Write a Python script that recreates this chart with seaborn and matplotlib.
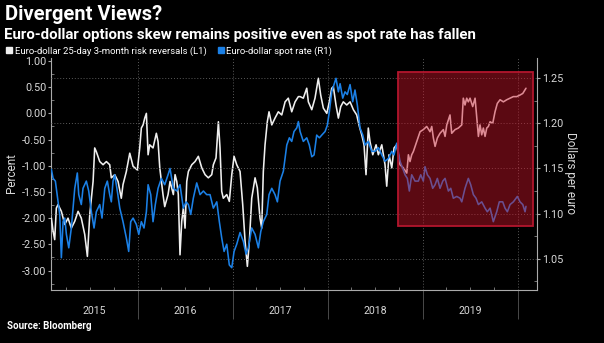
import matplotlib
matplotlib.use("Agg")
import matplotlib.pyplot as plt
import matplotlib.transforms as mtransforms
from matplotlib.patches import Rectangle
from matplotlib.lines import Line2D
from matplotlib.ticker import FixedLocator, FormatStrFormatter, MultipleLocator
import seaborn as sns
import pandas as pd
import numpy as np

# ---------------- data (decimal years) ----------------
rr_t = [2015.093, 2015.111, 2015.128, 2015.145, 2015.163, 2015.198, 2015.234, 2015.268, 2015.303, 2015.339,
        2015.374, 2015.408, 2015.444, 2015.472, 2015.497, 2015.532, 2015.549, 2015.566, 2015.602, 2015.637,
        2015.672, 2015.707, 2015.724, 2015.760, 2015.795, 2015.829, 2015.847, 2015.882, 2015.918, 2015.953,
        2015.998, 2016.023, 2016.040, 2016.058, 2016.076, 2016.093, 2016.111, 2016.128, 2016.163, 2016.198,
        2016.216, 2016.234, 2016.268, 2016.286, 2016.321,
        2016.342, 2016.377, 2016.395, 2016.413, 2016.429, 2016.447, 2016.465, 2016.482, 2016.500, 2016.518,
        2016.535, 2016.571, 2016.605, 2016.640, 2016.676, 2016.711, 2016.745, 2016.781, 2016.798, 2016.826,
        2016.851, 2016.868, 2016.886, 2016.903, 2016.939, 2016.966, 2016.992,
        2017.016, 2017.044, 2017.079, 2017.107, 2017.132, 2017.156, 2017.177, 2017.202, 2017.237, 2017.261,
        2017.289, 2017.307, 2017.324, 2017.342, 2017.366, 2017.384, 2017.413, 2017.447, 2017.482, 2017.518,
        2017.553, 2017.587, 2017.623, 2017.658, 2017.693,
        2017.711, 2017.745, 2017.781, 2017.798, 2017.834, 2017.868, 2017.903, 2017.928, 2017.956, 2017.992,
        2018.019, 2018.044, 2018.061, 2018.089, 2018.114, 2018.139, 2018.166, 2018.202, 2018.237, 2018.272,
        2018.307, 2018.335, 2018.360, 2018.384, 2018.405, 2018.429, 2018.447, 2018.476, 2018.511, 2018.535,
        2018.571, 2018.605, 2018.623, 2018.647, 2018.676, 2018.700, 2018.728,
        2018.763, 2018.798, 2018.834, 2018.851, 2018.868, 2018.886, 2018.903, 2018.939, 2018.974,
        2019.008, 2019.044, 2019.079, 2019.097, 2019.114, 2019.132, 2019.156, 2019.184, 2019.219, 2019.237,
        2019.255, 2019.289, 2019.307, 2019.342, 2019.377, 2019.413, 2019.429, 2019.447, 2019.465, 2019.482,
        2019.500, 2019.528, 2019.553, 2019.571, 2019.588, 2019.605, 2019.623, 2019.640, 2019.658, 2019.676,
        2019.693, 2019.711, 2019.739, 2019.763, 2019.787, 2019.816, 2019.851, 2019.886, 2019.921, 2019.956,
        2019.992, 2020.026, 2020.055, 2020.079, 2020.089]
rr_v = [-2.00, -2.25, -2.41, -1.81, -1.74, -1.87, -2.12, -2.00, -2.19, -2.06,
        -1.87, -2.00, -2.31, -2.73, -1.93, -1.30, -0.66, -0.73, -0.92, -0.98,
        -0.92, -0.98, -1.23, -1.17, -1.30, -1.62, -1.36, -1.11, -0.76, -1.01,
        -1.08, -0.66, -0.28, -0.22, -0.09, 0.00, -0.79, -0.60, -0.66, -0.38,
        -0.54, -1.04, -1.55, -1.78, -1.55,
        -1.30, -1.55, -1.17, -1.30, -1.55, -2.70, -2.06, -1.81, -2.19, -1.30,
        -1.11, -0.98, -0.92, -0.82, -1.04, -1.17, -1.23, -1.17, -0.98, -0.85,
        -0.16, -0.66, -1.49, -1.62, -1.55, -1.68, -1.17,
        -0.82, -0.98, -1.11, -1.74, -2.44, -2.92, -2.44, -1.62, -1.23, -1.42,
        -2.00, -2.19, -1.11, -0.60, -0.16, 0.03, -0.22, -0.09, 0.03, -0.03,
        0.22, 0.29, 0.03, 0.22, 0.32,
        0.32, 0.29, 0.48, 0.22, 0.07, 0.29, 0.67, 0.35, 0.10, 0.00,
        0.22, 0.48, 0.51, 0.16, -0.09, 0.13, 0.22, 0.16, 0.22, 0.07,
        -0.03, -0.25, -0.41, -0.60, -1.17, -0.28, -0.54, -0.79, -0.60, -0.79,
        -0.60, -0.98, -1.39, -0.79, -1.04, -0.66, -0.60,
        -0.98, -1.04, -1.14, -0.79, -0.92, -0.79, -0.73, -0.54, -0.35,
        -0.31, -0.25, -0.35, -0.25, -0.47, -0.63, -0.47, -0.38, -0.31, -0.44,
        -0.22, -0.03, -0.38, -0.31, -0.28, -0.22, 0.29, 0.16, 0.29, 0.22,
        0.29, 0.13, 0.29, -0.09, -0.44, -0.22, -0.41, -0.28, -0.44, -0.28,
        -0.25, -0.16, -0.19, 0.03, 0.19, 0.26, 0.22, 0.26, 0.29, 0.32,
        0.32, 0.35, 0.38, 0.45, 0.48]

spot_t = [2015.093, 2015.111, 2015.135, 2015.163, 2015.181, 2015.198, 2015.216, 2015.234, 2015.251, 2015.276,
          2015.303, 2015.339, 2015.366, 2015.381, 2015.408, 2015.426, 2015.461, 2015.486, 2015.514, 2015.542,
          2015.566, 2015.602, 2015.626, 2015.655, 2015.682, 2015.707, 2015.724, 2015.742, 2015.760, 2015.787,
          2015.813, 2015.847, 2015.882, 2015.907, 2015.928, 2015.953, 2015.987,
          2016.013, 2016.040, 2016.068, 2016.093, 2016.111, 2016.139, 2016.163, 2016.187, 2016.216, 2016.251,
          2016.286, 2016.321, 2016.342, 2016.377, 2016.413, 2016.447, 2016.482, 2016.511, 2016.535, 2016.560,
          2016.587, 2016.623, 2016.658, 2016.693, 2016.728, 2016.763, 2016.798, 2016.834, 2016.861, 2016.886,
          2016.911, 2016.939, 2016.966, 2016.992,
          2017.016, 2017.044, 2017.079, 2017.114, 2017.142, 2017.166, 2017.202, 2017.237, 2017.272, 2017.297,
          2017.324, 2017.360, 2017.384, 2017.413, 2017.447, 2017.472, 2017.500, 2017.535, 2017.571, 2017.598,
          2017.623, 2017.647, 2017.676, 2017.693, 2017.711, 2017.745, 2017.781, 2017.808, 2017.834, 2017.858,
          2017.886, 2017.914, 2017.939, 2017.974, 2017.998,
          2018.019, 2018.044, 2018.068, 2018.089, 2018.114, 2018.132, 2018.160, 2018.184, 2018.208, 2018.237,
          2018.265, 2018.289, 2018.314, 2018.342, 2018.371, 2018.395, 2018.429, 2018.465, 2018.500, 2018.535,
          2018.571, 2018.605, 2018.640, 2018.676, 2018.700, 2018.728, 2018.763, 2018.792, 2018.816, 2018.840,
          2018.861, 2018.886, 2018.921, 2018.956, 2018.981,
          2019.008, 2019.026, 2019.051, 2019.079, 2019.107, 2019.132, 2019.156, 2019.184, 2019.213, 2019.237,
          2019.272, 2019.297, 2019.324, 2019.360, 2019.395, 2019.413, 2019.447, 2019.482, 2019.507, 2019.535,
          2019.563, 2019.588, 2019.623, 2019.658, 2019.682, 2019.711, 2019.745, 2019.781, 2019.808, 2019.844,
          2019.868, 2019.893, 2019.921, 2019.956, 2019.998, 2020.026, 2020.055, 2020.079, 2020.089]
spot_v = [1.149, 1.139, 1.136, 1.113, 1.099, 1.051, 1.091, 1.095, 1.077, 1.062,
          1.084, 1.128, 1.145, 1.121, 1.110, 1.128, 1.136, 1.125, 1.102, 1.084,
          1.102, 1.110, 1.095, 1.128, 1.136, 1.121, 1.113, 1.136, 1.143, 1.125,
          1.106, 1.091, 1.073, 1.058, 1.091, 1.095, 1.088,
          1.077, 1.091, 1.084, 1.102, 1.132, 1.121, 1.091, 1.110, 1.128, 1.139,
          1.132, 1.143, 1.150, 1.128, 1.125, 1.132, 1.106, 1.113, 1.110, 1.099,
          1.117, 1.134, 1.121, 1.125, 1.121, 1.121, 1.106, 1.113, 1.091, 1.073,
          1.058, 1.066, 1.043, 1.040,
          1.058, 1.066, 1.079, 1.069, 1.055, 1.062, 1.084, 1.077, 1.062, 1.080,
          1.091, 1.099, 1.121, 1.128, 1.121, 1.113, 1.136, 1.147, 1.176, 1.184,
          1.180, 1.191, 1.195, 1.202, 1.191, 1.180, 1.184, 1.176, 1.163, 1.165,
          1.187, 1.184, 1.187, 1.191, 1.198,
          1.213, 1.235, 1.243, 1.250, 1.235, 1.244, 1.228, 1.235, 1.232, 1.243,
          1.224, 1.237, 1.220, 1.195, 1.187, 1.176, 1.180, 1.169, 1.169, 1.173,
          1.165, 1.158, 1.161, 1.169, 1.165, 1.178, 1.158, 1.150, 1.143, 1.139,
          1.125, 1.143, 1.136, 1.136, 1.143,
          1.136, 1.152, 1.143, 1.139, 1.128, 1.132, 1.139, 1.128, 1.136, 1.139,
          1.125, 1.128, 1.117, 1.119, 1.117, 1.113, 1.128, 1.139, 1.132, 1.121,
          1.117, 1.110, 1.113, 1.106, 1.102, 1.106, 1.091, 1.102, 1.113, 1.113,
          1.106, 1.102, 1.110, 1.113, 1.119, 1.113, 1.110, 1.102, 1.108]

years = [2015, 2016, 2017, 2018, 2019]
left_ticks = [1.00, 0.50, 0.00, -0.50, -1.00, -1.50, -2.00, -2.50, -3.00]
right_ticks = [1.05, 1.10, 1.15, 1.20, 1.25]
# highlighted window (start, end in years; low, high in dollars per euro)
box_t = (2018.742, 2020.163)
box_r = (1.0866, 1.257)

rr_label = "Euro-dollar 25-day 3-month risk reversals (L1)"
spot_label = "Euro-dollar spot rate (R1)"

# ---------------- style ----------------
sns.set_theme(style="dark")
plt.rcParams["font.family"] = ["Roboto", "DejaVu Sans"]
plt.rcParams["axes.unicode_minus"] = False

BG = "#000000"
TXT = "#d8d8d8"
GRID = "#5a5a5a"
WHITE_LINE = "#efefef"
BLUE_LINE = "#1b80e6"

fig = plt.figure(figsize=(6.04, 3.43), dpi=100, facecolor=BG)
ax = fig.add_axes([51 / 604, 1 - 289.5 / 343, (537.3 - 51) / 604, (289.5 - 58) / 343])
ax.set_facecolor(BG)
ax2 = ax.twinx()

rr = pd.DataFrame({"t": rr_t, "v": rr_v})
sp = pd.DataFrame({"t": spot_t, "v": spot_v})

sns.lineplot(data=rr, x="t", y="v", ax=ax, color=WHITE_LINE, linewidth=1.15, zorder=3)
sns.lineplot(data=sp, x="t", y="v", ax=ax2, color=BLUE_LINE, linewidth=1.15, zorder=3)

xmin, xmax = 2015.089, 2020.208
ax.set_xlim(xmin, xmax)
ax.set_ylim(-3.362, 1.057)
ax2.set_ylim(1.0158, 1.2725)

for a in (ax, ax2):
    a.set_xlabel("")
    a.set_ylabel("")
    for s in a.spines.values():
        s.set_visible(False)

ax.spines["left"].set_visible(True)
ax.spines["left"].set_color("#aaaaaa")
ax.spines["left"].set_linewidth(0.8)
ax.spines["bottom"].set_visible(True)
ax.spines["bottom"].set_color("#aaaaaa")
ax.spines["bottom"].set_linewidth(0.8)
ax2.spines["right"].set_visible(True)
ax2.spines["right"].set_color("#aaaaaa")
ax2.spines["right"].set_linewidth(0.8)

# left axis ticks
ax.yaxis.set_major_locator(FixedLocator(left_ticks))
ax.yaxis.set_major_formatter(FormatStrFormatter("%.2f"))
ax.yaxis.set_minor_locator(MultipleLocator(0.25))
ax.tick_params(axis="y", which="major", direction="out", length=2, width=0.8,
               color="#aaaaaa", labelcolor=TXT, labelsize=7.8, pad=1.5, left=True)
ax.tick_params(axis="y", which="minor", direction="in", length=2, width=0.6, color="#888888", left=True)

# right axis ticks
ax2.yaxis.set_major_locator(FixedLocator(right_ticks))
ax2.yaxis.set_major_formatter(FormatStrFormatter("%.2f"))
ax2.yaxis.set_minor_locator(MultipleLocator(0.025))
ax2.tick_params(axis="y", which="major", direction="out", length=2, width=0.8,
                color="#aaaaaa", labelcolor=TXT, labelsize=7.8, pad=1.5, right=True)
ax2.tick_params(axis="y", which="minor", direction="in", length=2, width=0.6, color="#888888", right=True)

# x axis: year separators and quarterly ticks
ax.xaxis.set_major_locator(FixedLocator([y + 1 for y in years]))
ax.xaxis.set_minor_locator(MultipleLocator(0.25))
ax.tick_params(axis="x", which="major", direction="out", length=21, width=0.6,
               color="#555555", labelbottom=False, bottom=True)
ax.tick_params(axis="x", which="minor", direction="in", length=2, width=0.6, color="#888888", bottom=True)

ax.grid(axis="x", which="major", color=GRID, linestyle=(0, (1, 2)), linewidth=0.7)
ax.grid(axis="y", visible=False)
ax2.grid(axis="y", which="major", color=GRID, linestyle=(0, (1, 2)), linewidth=0.7)
ax2.grid(axis="x", visible=False)
ax.set_axisbelow(True)

trans = mtransforms.blended_transform_factory(ax.transData, ax.transAxes)
for y in years:
    lo, hi = max(y, xmin), min(y + 1, xmax)
    ax.text((lo + hi) / 2, -0.093, str(y), transform=trans, ha="center", va="center",
            color=TXT, fontsize=7.6)

# highlighted window
rect = Rectangle((box_t[0], box_r[0]), box_t[1] - box_t[0], box_r[1] - box_r[0],
                 facecolor=(0.80, 0.08, 0.16, 0.45), edgecolor="#b3162d", linewidth=1.3, zorder=5)
ax2.add_patch(rect)

# axis labels
fig.text(12 / 604, 1 - 173 / 343, "Percent", rotation=90, ha="center", va="center",
         color=TXT, fontsize=8.5)
fig.text(570 / 604, 1 - 173 / 343, "Dollars per euro", rotation=270, ha="center", va="center",
         color=TXT, fontsize=8.5)

# titles
fig.text(5 / 604, 1 - 15 / 343, "Divergent Views?", ha="left", va="center",
         color="white", fontsize=14.5, fontweight="bold")
fig.text(4 / 604, 1 - 35 / 343, "Euro-dollar options skew remains positive even as spot rate has fallen",
         ha="left", va="center", color="white", fontsize=10.8, fontweight="bold")

handles = [Line2D([], [], marker="s", linestyle="", color=WHITE_LINE, markersize=4.5),
           Line2D([], [], marker="s", linestyle="", color=BLUE_LINE, markersize=4.5)]
fig.legend(handles, [rr_label, spot_label], loc="center left", bbox_to_anchor=(0.0, 1 - 51 / 343),
           ncol=2, frameon=False, fontsize=6.8, labelcolor="white", handlelength=0.6,
           handletextpad=0.25, columnspacing=1.2, borderaxespad=0.3)

fig.text(7 / 604, 1 - 326 / 343, "Source: Bloomberg", ha="left", va="center",
         color="white", fontsize=7.0, fontweight="bold")

fig.savefig("out.png", dpi=100, facecolor=BG)
